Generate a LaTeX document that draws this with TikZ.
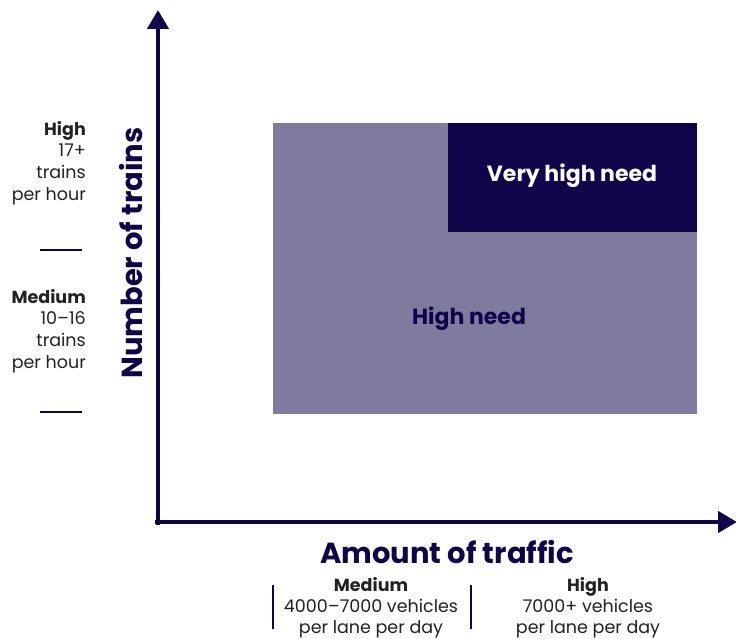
\documentclass[tikz,border=0pt]{standalone}
\usepackage{fontspec}
\setmainfont{Poppins}
\usepackage{tikz}
\usetikzlibrary{arrows.meta, positioning}
\definecolor{navy}{HTML}{10034A}
\definecolor{lilac}{HTML}{7F7B9F}
\definecolor{ink}{HTML}{222222}
\tikzset{
    axis/.style={line width=4.5pt, navy, -{Triangle[width=21pt, length=19pt]}},
    zone/.style={rectangle, draw=none, anchor=north west, inner sep=0pt},
    level/.style={align=right, anchor=north east, text=ink, font=\fontsize{17.5}{21.7}\selectfont, inner sep=0pt},
    band/.style={align=center, anchor=north, text=ink, font=\fontsize{17.5}{21.2}\selectfont, inner sep=0pt},
    tick/.style={line width=1.5pt, navy},
    title/.style={text=navy, font=\fontsize{29}{32}\selectfont\bfseries},
    need/.style={font=\fontsize{22}{26}\selectfont\bfseries}
}
\begin{document}
\begin{tikzpicture}[x=1pt, y=-1pt]
\useasboundingbox (0,0) rectangle (736,639);

% Need zones
\node[zone, fill=lilac, minimum width=424pt, minimum height=291pt] (high) at (273,123) {};
\node[zone, fill=navy, minimum width=249pt, minimum height=109pt] (veryhigh) at (448,123) {};
\node[need, text=white] (veryhighlabel) at (572,176) {Very high need};
\node[need, text=navy] (highlabel) at (469,319) {High need};

% Axes
\coordinate (origin) at (158,522);
\coordinate (ytop) at (158,10);
\coordinate (xend) at (737,522);
\draw[axis] ([yshift=-3pt]origin) -- (ytop);
\draw[axis] ([xshift=-3pt]origin) -- (xend);
\node[title, rotate=90] (ylabel) at (131,253) {Number of trains};
\node[title] (xlabel) at (447,552) {Amount of traffic};

% Train levels
\node[level] (trainshigh) at (86,121) {\textbf{High}\\17+\\trains\\per hour};
\node[level] (trainsmed) at (86,289) {\textbf{Medium}\\10–16\\trains\\per hour};
\coordinate (t1a) at (40,250);
\coordinate (t1b) at (82,250);
\coordinate (t2a) at (40,412);
\coordinate (t2b) at (82,412);
\draw[tick] (t1a) -- (t1b);
\draw[tick] (t2a) -- (t2b);

% Traffic levels
\node[band] (trafficmed) at (371,577) {\textbf{Medium}\\4000–7000 vehicles\\per lane per day};
\node[band] (traffichigh) at (588,577) {\textbf{High}\\7000+ vehicles\\per lane per day};
\coordinate (b1a) at (273,585);
\coordinate (b1b) at (273,629);
\coordinate (b2a) at (471,585);
\coordinate (b2b) at (471,629);
\draw[tick] (b1a) -- (b1b);
\draw[tick] (b2a) -- (b2b);

\end{tikzpicture}
\end{document}
